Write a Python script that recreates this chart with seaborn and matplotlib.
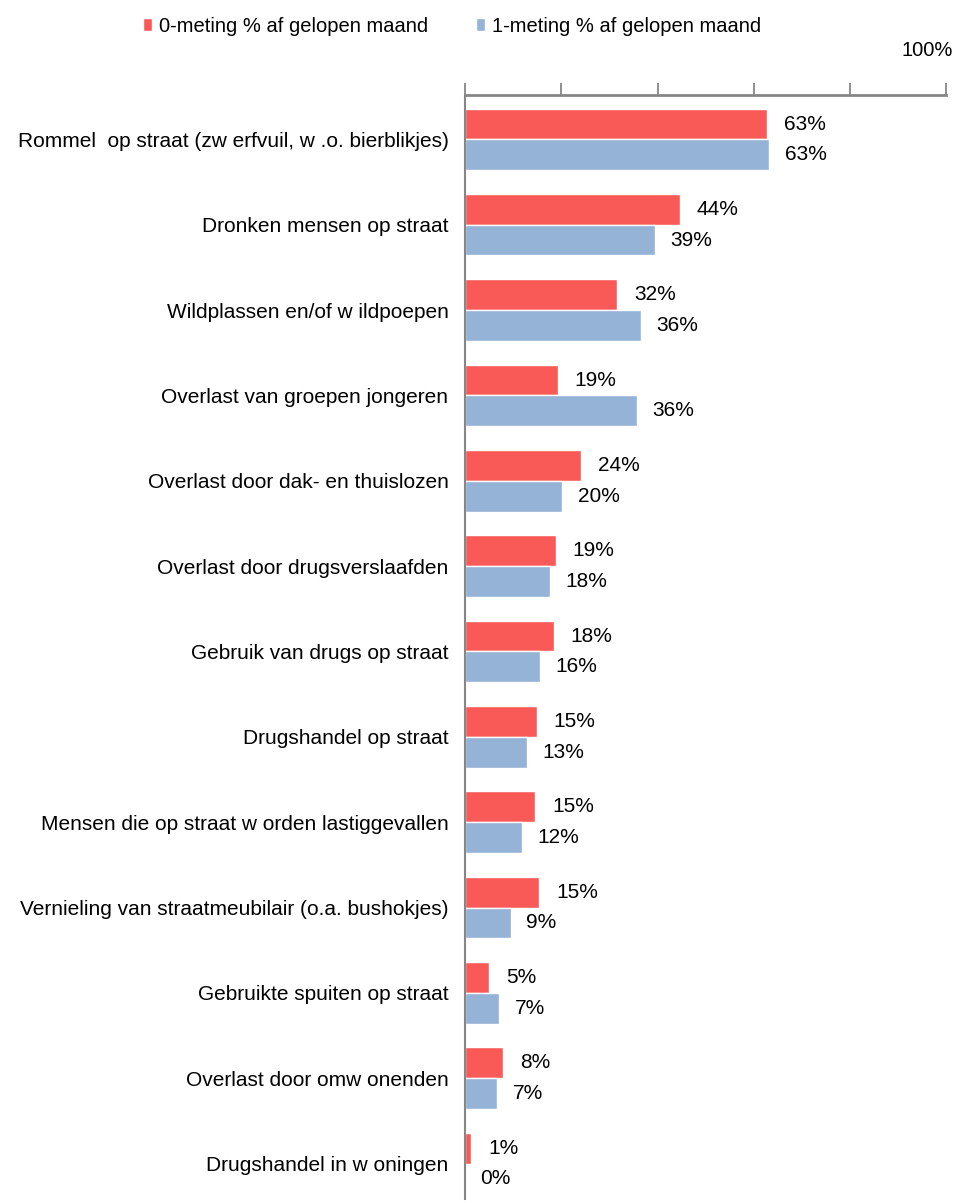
import pandas as pd
import numpy as np
import seaborn as sns
import matplotlib as mpl
mpl.use("Agg")
import matplotlib.pyplot as plt

# data
categories = [
    "Rommel  op straat (zw erfvuil, w .o. bierblikjes)",
    "Dronken mensen op straat",
    "Wildplassen en/of w ildpoepen",
    "Overlast van groepen jongeren",
    "Overlast door dak- en thuislozen",
    "Overlast door drugsverslaafden",
    "Gebruik van drugs op straat",
    "Drugshandel op straat",
    "Mensen die op straat w orden lastiggevallen",
    "Vernieling van straatmeubilair (o.a. bushokjes)",
    "Gebruikte spuiten op straat",
    "Overlast door omw onenden",
    "Drugshandel in w oningen",
]
meting0 = [62.8, 44.6, 31.6, 19.2, 24.1, 18.9, 18.4, 14.9, 14.6, 15.4, 5.0, 7.9, 1.3]
meting1 = [63.2, 39.4, 36.5, 35.7, 20.2, 17.6, 15.6, 12.8, 11.9, 9.5, 7.1, 6.7, 0.0]
labels0 = ["63%", "44%", "32%", "19%", "24%", "19%", "18%", "15%", "15%", "15%", "5%", "8%", "1%"]
labels1 = ["63%", "39%", "36%", "36%", "20%", "18%", "16%", "13%", "12%", "9%", "7%", "7%", "0%"]
series = ["0-meting % af gelopen maand", "1-meting % af gelopen maand"]

df = pd.DataFrame({
    "cat": categories * 2,
    "val": meting0 + meting1,
    "serie": [series[0]] * len(categories) + [series[1]] * len(categories),
})

sns.set_style("white")
plt.rcParams["font.family"] = ["Liberation Sans", "DejaVu Sans"]
plt.rcParams["text.color"] = "black"

fig = plt.figure(figsize=(9.57, 12.03), dpi=100)
ax = fig.add_axes([0.486, 0.003, 0.503, 0.918])

sns.barplot(data=df, y="cat", x="val", hue="serie", orient="h",
            palette=["#FA5A57", "#95B3D7"], width=0.72, ax=ax,
            saturation=1, legend=True, errorbar=None)

ax.set_xlim(0, 100)
ax.set_ylim(12.42, -0.52)
ax.set_xlabel("")
ax.set_ylabel("")

# axis at top, ticks pointing up
ax.xaxis.set_ticks_position("top")
ax.set_xticks([0, 20, 40, 60, 80, 100])
ax.set_xticklabels([])
ax.tick_params(axis="x", direction="out", length=9, width=1.3, color="#868686", pad=2)
ax.tick_params(axis="y", length=0, labelsize=15, pad=12, labelcolor="black")
for s in ["right", "bottom"]:
    ax.spines[s].set_visible(False)
ax.spines["top"].set_color("#868686")
ax.spines["top"].set_linewidth(2)
ax.spines["left"].set_color("#868686")
ax.spines["left"].set_linewidth(1.5)
ax.grid(False)

fig.text(0.996, 0.958, "100%", ha="right", va="center", fontsize=14.5)

# value labels
for i, (v0, v1) in enumerate(zip(meting0, meting1)):
    ax.annotate(labels0[i], (v0, i - 0.18), xytext=(12, 0), textcoords="offset points",
                ha="left", va="center", fontsize=15)
    ax.annotate(labels1[i], (v1, i + 0.18), xytext=(11, 0), textcoords="offset points",
                ha="left", va="center", fontsize=15)

handles, lbls = ax.get_legend_handles_labels()
ax.get_legend().remove()
fig.legend(handles, lbls, loc="center left", bbox_to_anchor=(0.149, 0.978), ncol=2,
           frameon=False, fontsize=14.5, handlelength=0.45, handleheight=0.6,
           handletextpad=0.35, columnspacing=2.4, borderpad=0, borderaxespad=0)

fig.savefig("out.png", dpi=100)
